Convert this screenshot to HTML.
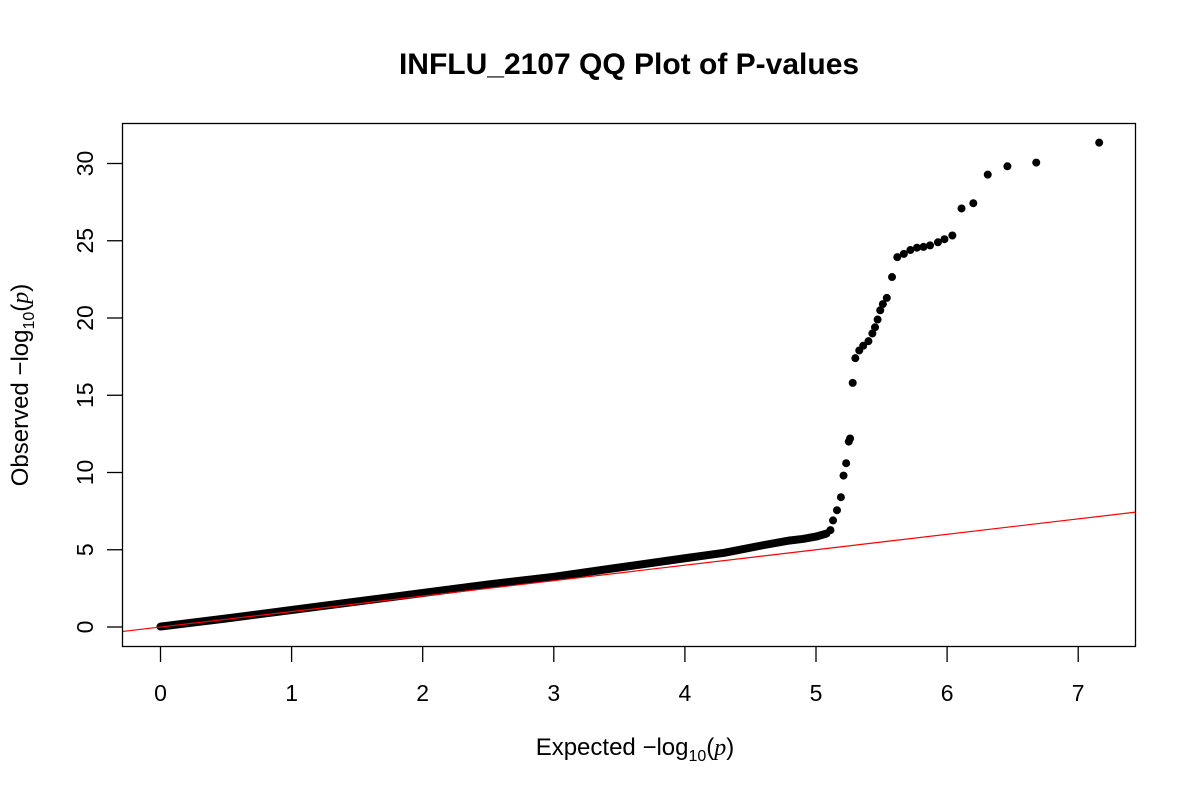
<!DOCTYPE html>
<html><head><meta charset="utf-8"><style>
body{margin:0;background:#fff;}
svg text{font-family:"Liberation Sans",sans-serif;}
</style></head><body>
<svg id="chart" width="1200" height="800" xmlns="http://www.w3.org/2000/svg">
<rect width="1200" height="800" fill="#fff"/>
<text x="629" y="74" font-size="30" font-weight="bold" text-anchor="middle">INFLU_2107 QQ Plot of P-values</text>
<g id="plot"></g>
<rect x="122.5" y="123.5" width="1013" height="523" fill="none" stroke="#000" stroke-width="1.3"/>
<text x="635" y="755" font-size="24" text-anchor="middle">Expected  −log<tspan font-size="16" dy="6">10</tspan><tspan dy="-6">(</tspan><tspan font-style="italic" font-family="Liberation Serif">p</tspan>)</text>
<text transform="translate(28,385) rotate(-90)" font-size="24" text-anchor="middle">Observed  −log<tspan font-size="16" dy="6">10</tspan><tspan dy="-6">(</tspan><tspan font-style="italic" font-family="Liberation Serif">p</tspan>)</text>
</svg>
<script>
const xTicks=[0,1,2,3,4,5,6,7];
const yTicks=[0,5,10,15,20,25,30];
const denseX=[0,0.5,1,1.5,2,2.5,3,3.5,4,4.3,4.6,4.8,4.9,5.0,5.08];
const denseY=[0.03,0.55,1.1,1.65,2.2,2.75,3.25,3.85,4.45,4.8,5.3,5.6,5.7,5.85,6.05];
const ptX=[5.11,5.13,5.16,5.19,5.21,5.23,5.25,5.26,5.28,5.30,5.33,5.36,5.40,5.43,5.45,5.47,5.49,5.51,5.54,5.58,5.62,5.67,5.72,5.77,5.82,5.87,5.93,5.98,6.04,6.11,6.20,6.31,6.46,6.68,7.16];
const ptY=[6.27,6.9,7.56,8.4,9.8,10.6,12.0,12.2,15.8,17.4,17.9,18.2,18.5,19.0,19.4,19.9,20.5,20.9,21.3,22.65,23.94,24.15,24.4,24.55,24.6,24.7,24.9,25.1,25.34,27.09,27.43,29.28,29.82,30.06,31.35];
const NS='http://www.w3.org/2000/svg';
const X0=160.5,XS=131.1,Y0=627,YS=15.45;
const sx=v=>X0+v*XS, sy=v=>Y0-v*YS;
const svg=document.getElementById('chart'), g=document.getElementById('plot');
function mk(t,a,p){const e=document.createElementNS(NS,t);for(const k in a)e.setAttribute(k,a[k]);(p||g).appendChild(e);return e;}
const defs=mk('defs',{},svg);
const cp=mk('clipPath',{id:'clip'},defs);
mk('rect',{x:122.5,y:123.5,width:1013,height:523},cp);
xTicks.forEach(t=>{
 const l=mk('line',{x1:sx(t),x2:sx(t),y1:647,y2:662,stroke:'#000','stroke-width':1.3});
 
 
 const tx=mk('text',{x:sx(t),y:701,'font-size':23,'text-anchor':'middle'});tx.textContent=t;
 
 
});
yTicks.forEach(t=>{
 const l=mk('line',{x1:107,x2:122.5,y1:sy(t),y2:sy(t),stroke:'#000','stroke-width':1.3});
 
 
 const tx=mk('text',{transform:`translate(93,${sy(t)}) rotate(-90)`,'font-size':23,'text-anchor':'middle'});tx.textContent=t;
 
 
});
const cg=mk('g',{'clip-path':'url(#clip)'});
const pl=mk('polyline',{points:denseX.map((x,i)=>sx(x)+','+sy(denseY[i])).join(' '),fill:'none',stroke:'#000','stroke-width':8,'stroke-linecap':'round','stroke-linejoin':'round'},cg);


ptX.forEach((x,i)=>{
 const c=mk('circle',{cx:sx(x),cy:sy(ptY[i]),r:4,fill:'#000'},cg);
 
 
});
const rl=mk('line',{x1:sx(-1),y1:sy(-1),x2:sx(8),y2:sy(8),stroke:'#f00','stroke-width':1.2},cg);


</script>
</body></html>
